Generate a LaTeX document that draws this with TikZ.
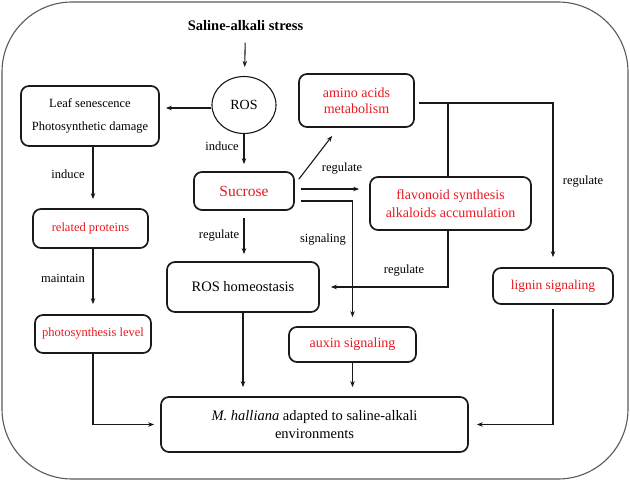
\documentclass[tikz,border=0pt]{standalone}
\usepackage{fontspec}
\setmainfont{Liberation Serif}
\usetikzlibrary{arrows.meta,shapes.geometric,calc}
\definecolor{txtred}{RGB}{232,25,32}
\definecolor{linec}{RGB}{25,25,25}
\begin{document}
\begin{tikzpicture}[x=1pt,y=-1pt,
  box/.style={draw=linec,rounded corners=8pt,line width=1.7pt,inner sep=0pt,align=center},
  rtxt/.style={text=txtred},
  arr/.style={draw=linec,-{Stealth[length=6pt,width=4.5pt]},line width=1.1pt},
  ln/.style={draw=linec,line width=1.1pt},
  lbl/.style={font=\fontsize{12.5}{14}\selectfont,inner sep=0pt}
]
\useasboundingbox (0,0) rectangle (630,481);
\draw[rounded corners=70pt,line width=1.1pt,draw=black!65] (2,2) rectangle (628,479);

% nodes
\node[font=\bfseries\fontsize{14.5}{17}\selectfont] (title) at (245.5,26) {Saline-alkali stress};
\node[ellipse,draw=linec,line width=1.1pt,minimum width=64pt,minimum height=57pt,inner sep=0pt,font=\fontsize{14}{16}\selectfont] (ros) at (244,105) {ROS};
\node[box,minimum width=138pt,minimum height=60pt,font=\fontsize{12.5}{23}\selectfont] (leaf) at (90,116) {Leaf senescence\\Photosynthetic damage};
\node[box,rtxt,minimum width=115pt,minimum height=39pt,font=\fontsize{12.5}{15}\selectfont] (rel) at (90.5,228.5) {related proteins};
\node[box,rtxt,minimum width=116pt,minimum height=38pt,font=\fontsize{12.5}{15}\selectfont] (photo) at (93,334) {photosynthesis level};
\node[box,rtxt,minimum width=100pt,minimum height=38pt,font=\fontsize{15.5}{18}\selectfont] (suc) at (244,191) {Sucrose};
\node[box,rtxt,minimum width=115pt,minimum height=53pt,font=\fontsize{14}{16}\selectfont] (amino) at (356.5,100.5) {amino acids\\metabolism};
\node[box,rtxt,minimum width=161pt,minimum height=53pt,font=\fontsize{14}{18}\selectfont] (flav) at (450.5,203.5) {flavonoid synthesis\\alkaloids accumulation};
\node[box,minimum width=152pt,minimum height=50pt,font=\fontsize{14.5}{17}\selectfont] (home) at (243,287) {ROS homeostasis};
\node[box,rtxt,minimum width=120pt,minimum height=36pt,font=\fontsize{13.5}{16}\selectfont] (lignin) at (553,286) {lignin signaling};
\node[box,rtxt,minimum width=127pt,minimum height=35pt,font=\fontsize{14}{16}\selectfont] (auxin) at (352.5,344.5) {auxin signaling};
\node[box,minimum width=307pt,minimum height=55pt,font=\fontsize{14.5}{18.5}\selectfont] (final) at (314.5,424.5) {\textit{M. halliana} adapted to saline-alkali\\environments};

% connectors
\draw[arr,shorten <=8pt,shorten >=9pt] (title) -- (ros);
\draw[arr,shorten >=6pt] ([yshift=-3pt]ros.west) -- ([yshift=-3pt]ros.west -| leaf.east);
\draw[arr,shorten >=9pt] ([xshift=3pt]leaf.south) -- ([xshift=3pt]leaf.south |- rel.north);
\draw[arr,shorten >=10pt] ([xshift=2.5pt]rel.south) -- ([xshift=2.5pt]rel.south |- photo.north);
\draw[arr,shorten >=6pt] (photo.south) |- (final.west);
\draw[arr,shorten >=7pt] (ros.south) -- (suc.north);
\draw[arr,shorten <=7pt,shorten >=7pt] (suc.south) -- (suc.south |- home.north);
\draw[arr,shorten >=9pt] (home.south) -- (home.south |- final.north);
\draw[arr,shorten >=9pt] (auxin.south) -- (auxin.south |- final.north);
\draw[arr] ($(suc.north east)+(4,8)$) -- ($(amino.south west)+(34,8)$);
\coordinate (s1) at ($(suc.east)+(0,-2)$);
\draw[arr,shorten <=6pt,shorten >=10pt] (s1) -- (s1 -| flav.west);
\coordinate (s2) at ($(suc.east)+(0,10)$);
\draw[arr,shorten <=6pt,shorten >=9pt] (s2) -| (auxin.north);
\coordinate (a1) at ($(amino.east)+(0,2.5)$);
\draw[arr,shorten <=4pt,shorten >=10pt] (a1) -| (lignin.north);
\coordinate (j1) at ($(flav.north)+(-2.5,0)$);
\draw[ln] (j1 |- a1) -- (j1);
\coordinate (j2) at ($(flav.south)+(-2.5,0)$);
\draw[arr,shorten >=11pt] (j2) |- (home.east);
\draw[arr,shorten <=4pt,shorten >=8pt] (lignin.south) |- (final.east);

% labels
\node[lbl] (l1) at (222,146) {induce};
\node[lbl] (l2) at (68,174) {induce};
\node[lbl] (l3) at (63,278) {maintain};
\node[lbl] (l4) at (219,236) {regulate};
\node[lbl] (l5) at (342,169) {regulate};
\node[lbl] (l6) at (323,240) {signaling};
\node[lbl] (l7) at (404,271) {regulate};
\node[lbl] (l8) at (583,182) {regulate};
\end{tikzpicture}
\end{document}
